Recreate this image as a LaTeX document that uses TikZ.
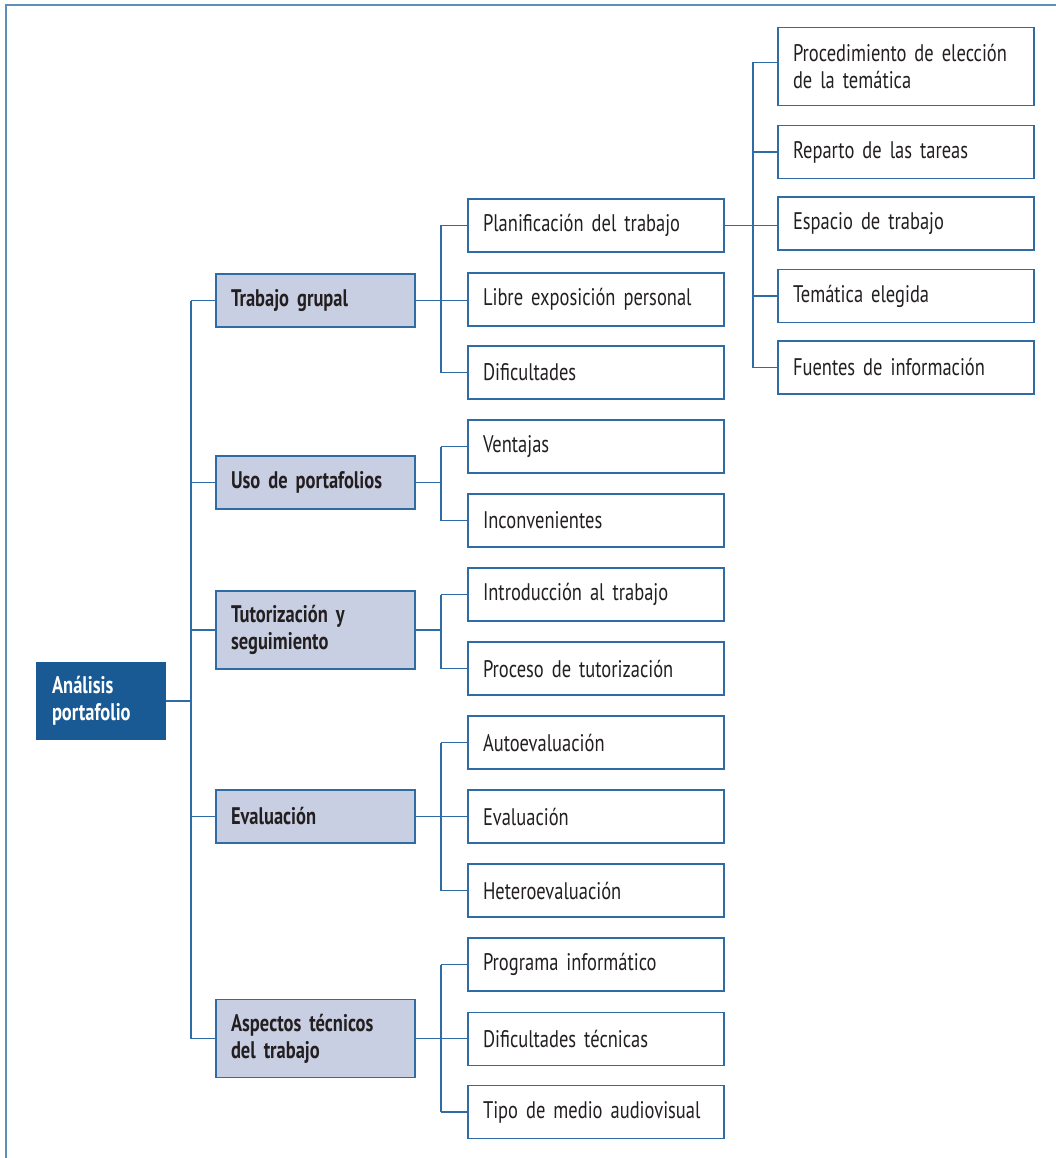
\documentclass[tikz,border=0pt]{standalone}
\usepackage{fontspec}
\setmainfont{PT Sans}[FakeStretch=0.77]
\definecolor{lineblue}{HTML}{2F6CA5}
\definecolor{frameblue}{HTML}{5E8FBB}
\definecolor{rootblue}{HTML}{195A94}
\definecolor{lvfill}{HTML}{C9CFE3}
\definecolor{txt}{HTML}{231F20}
\newcommand{\boxfont}{\fontsize{24}{27}\selectfont}
\begin{document}
\begin{tikzpicture}[x=1pt,y=-1pt,
  conn/.style={draw=lineblue,line width=1.3pt},
  basebox/.style={draw=lineblue,line width=1.3pt,inner xsep=15pt,align=left,
    font=\boxfont,text=txt},
  rootbox/.style={basebox,fill=rootblue,draw=rootblue,text=white,
    font=\boxfont\bfseries,text width=98pt,minimum height=76pt},
  lvone/.style={basebox,fill=lvfill,font=\boxfont\bfseries,
    text width=169pt},
  lvtwo/.style={basebox,fill=white,text width=226pt,minimum height=53pt},
]
\useasboundingbox (0,0) rectangle (1056,1158);
\draw[frameblue,line width=2pt] (6,1158) -- (6,5) -- (1056,5);

% root
\node[rootbox] (root) at (101,701) {Análisis\\portafolio};

% level 1
\node[lvone,minimum height=53pt] (tg) at (315.5,300.5) {Trabajo grupal};
\node[lvone,minimum height=53pt] (up) at (315.5,482.5) {Uso de portafolios};
\node[lvone,minimum height=78pt] (ts) at (315.5,630) {Tutorización y\\seguimiento};
\node[lvone,minimum height=53pt] (ev) at (315.5,816.5) {Evaluación};
\node[lvone,minimum height=78pt] (at) at (315.5,1038.5) {Aspectos técnicos\\del trabajo};

% level 2
\node[lvtwo] (pt) at (596,225.5) {Planificación del trabajo};
\node[lvtwo] (le) at (596,299.5) {Libre exposición personal};
\node[lvtwo] (di) at (596,372.5) {Dificultades};
\node[lvtwo] (ve) at (596,446.5) {Ventajas};
\node[lvtwo] (in) at (596,520.5) {Inconvenientes};
\node[lvtwo] (it) at (596,594.5) {Introducción al trabajo};
\node[lvtwo] (pr) at (596,668.5) {Proceso de tutorización};
\node[lvtwo] (ae) at (596,742.5) {Autoevaluación};
\node[lvtwo] (e2) at (596,816.5) {Evaluación};
\node[lvtwo] (he) at (596,890.5) {Heteroevaluación};
\node[lvtwo] (pi) at (596,964.5) {Programa informático};
\node[lvtwo] (dt) at (596,1039) {Dificultades técnicas};
\node[lvtwo] (tm) at (596,1112) {Tipo de medio audiovisual};

% level 3
\node[lvtwo,minimum height=78pt] (pe) at (906,66.5) {Procedimiento de elección\\de la temática};
\node[lvtwo] (rt) at (906,152) {Reparto de las tareas};
\node[lvtwo] (et) at (906,223.5) {Espacio de trabajo};
\node[lvtwo] (te) at (906,296) {Temática elegida};
\node[lvtwo] (fi) at (906,367.5) {Fuentes de información};

% bus coordinates
\coordinate (b0) at (191,0);
\coordinate (b1) at (441,0);
\coordinate (b2) at (753,0);

% root to level 1
\draw[conn] (root.east) -- (root.east -| b0);
\draw[conn] (tg.west -| b0) -- (at.west -| b0);
\foreach \n in {tg,up,ts,ev,at} \draw[conn] (\n.west -| b0) -- (\n.west);

% Trabajo grupal
\draw[conn] (tg.east) -- (tg.east -| le.west);
\draw[conn] (pt.west -| b1) -- (di.west -| b1);
\foreach \n in {pt,di} \draw[conn] (\n.west -| b1) -- (\n.west);
% Uso de portafolios
\draw[conn] (up.east) -- (up.east -| b1);
\draw[conn] (ve.west -| b1) -- (in.west -| b1);
\foreach \n in {ve,in} \draw[conn] (\n.west -| b1) -- (\n.west);
% Tutorizacion
\draw[conn] (ts.east) -- (ts.east -| b1);
\draw[conn] (it.west -| b1) -- (pr.west -| b1);
\foreach \n in {it,pr} \draw[conn] (\n.west -| b1) -- (\n.west);
% Evaluacion
\draw[conn] (ev.east) -- (e2.west);
\draw[conn] (ae.west -| b1) -- (he.west -| b1);
\foreach \n in {ae,he} \draw[conn] (\n.west -| b1) -- (\n.west);
% Aspectos tecnicos
\draw[conn] (at.east) -- (at.east -| dt.west);
\draw[conn] (pi.west -| b1) -- (tm.west -| b1);
\foreach \n in {pi,tm} \draw[conn] (\n.west -| b1) -- (\n.west);

% Planificacion -> level 3
\draw[conn] (pt.east) -- (pt.east -| et.west);
\coordinate (pew) at ([yshift=4pt]pe.west);
\draw[conn] (pew -| b2) -- (fi.west -| b2);
\draw[conn] (pew -| b2) -- (pew);
\foreach \n in {rt,te,fi} \draw[conn] (\n.west -| b2) -- (\n.west);
\end{tikzpicture}
\end{document}
